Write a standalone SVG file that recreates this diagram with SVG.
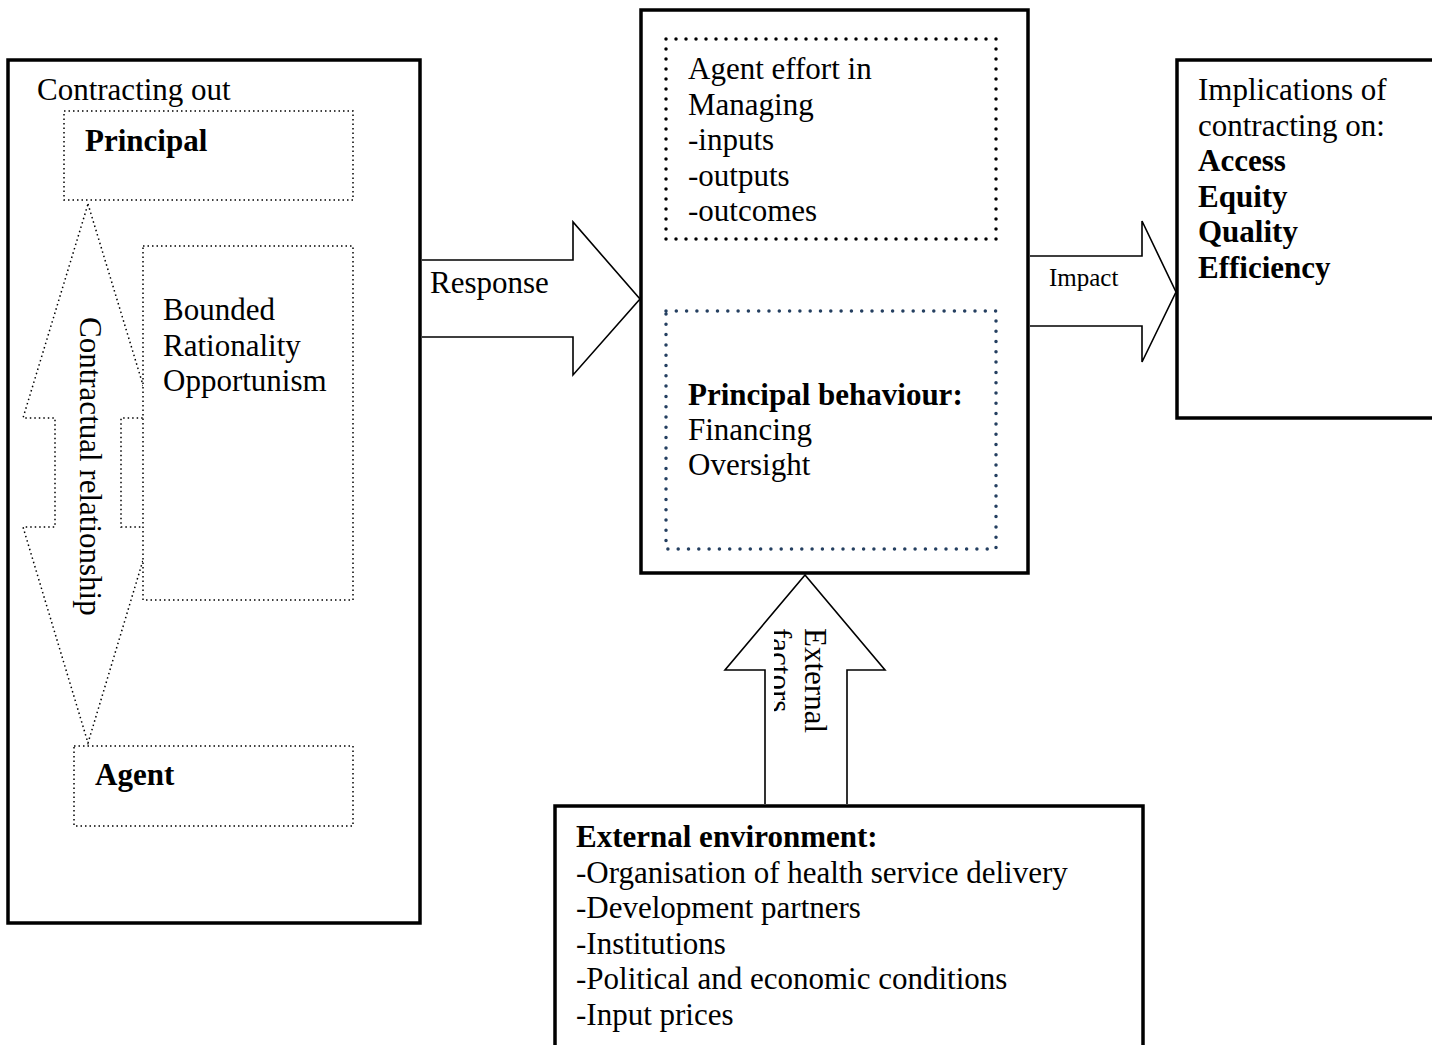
<svg xmlns="http://www.w3.org/2000/svg" width="1432" height="1045" viewBox="0 0 1432 1045">
<defs>
<style>
text{font-family:"Liberation Serif","Times New Roman",serif;font-size:31px;fill:#000}
.b{font-weight:bold}
.box{fill:#fff;stroke:#000;stroke-width:3.5}
.thin{fill:#fff;stroke:#000;stroke-width:1.5;stroke-dasharray:1.5 3}
.dot{fill:#fff;stroke:#000;stroke-width:3.5;stroke-dasharray:0 10;stroke-linecap:round}
.dotb{fill:#fff;stroke:#243f60;stroke-width:3.5;stroke-dasharray:0 10.3;stroke-linecap:round}
.arr{fill:#fff;stroke:#000;stroke-width:1.6;stroke-linejoin:miter}
.darr{fill:none;stroke:#000;stroke-width:1.5;stroke-dasharray:1.5 3}
</style>
<clipPath id="fclip"><rect x="774" y="600" width="80" height="200"/></clipPath>
</defs>
<rect width="1432" height="1045" fill="#fff"/>

<g id="contracting-out">
<rect class="box" x="8" y="60" width="412" height="863"/>
<text x="37" y="100">Contracting out</text>
</g>
<g id="response-box">
<rect class="box" x="641" y="10" width="387" height="563"/>
</g>
<g id="implications">
<rect class="box" x="1177" y="60" width="300" height="358"/>
<text x="1198" y="100">Implications of</text>
<text x="1198" y="135.5">contracting on:</text>
<text class="b" x="1198" y="171">Access</text>
<text class="b" x="1198" y="206.5">Equity</text>
<text class="b" x="1198" y="242">Quality</text>
<text class="b" x="1198" y="277.5">Efficiency</text>
</g>
<g id="external-environment">
<rect class="box" x="555" y="806" width="588" height="300"/>
<text class="b" x="576" y="847">External environment:</text>
<text x="576" y="882.5">-Organisation of health service delivery</text>
<text x="576" y="918">-Development partners</text>
<text x="576" y="953.5">-Institutions</text>
<text x="576" y="989">-Political and economic conditions</text>
<text x="576" y="1024.5">-Input prices</text>
</g>

<g id="connectors">
<g id="response-arrow">
<path class="arr" d="M422,260 H573 V222 L640,299 L573,375 V337 H422"/>
<text x="430" y="293">Response</text>
</g>
<g id="impact-arrow">
<path class="arr" d="M1030,256 H1142 V221 L1176,292 L1142,362 V326 H1030"/>
<text x="1049" y="286" style="font-size:25px">Impact</text>
</g>
<g id="external-factors-arrow">
<path class="arr" d="M765,804 V670 H725 L805,575 L885,670 H847 V804"/>
<text transform="translate(805,628) rotate(90)">External</text>
<g clip-path="url(#fclip)"><text transform="translate(769.5,628) rotate(90)">factors</text></g>
</g>
<g id="contractual-relationship">
<polygon class="darr" points="88,204 153,418 121,418 121,527 153,527 88,743 23,527 55,527 55,418 23,418"/>
<text transform="translate(80,317) rotate(90)">Contractual relationship</text>
</g>
</g>

<g id="principal">
<rect class="thin" x="64" y="111" width="289" height="89"/>
<text class="b" x="85" y="151">Principal</text>
</g>
<g id="bounded-rationality">
<rect class="thin" x="143" y="246" width="210" height="354"/>
<text x="163" y="320">Bounded</text>
<text x="163" y="355.5">Rationality</text>
<text x="163" y="391">Opportunism</text>
</g>
<g id="agent">
<rect class="thin" x="74" y="746" width="279" height="80"/>
<text class="b" x="95" y="785">Agent</text>
</g>
<g id="agent-effort">
<rect class="dot" x="666" y="39" width="330" height="200"/>
<text x="688" y="79">Agent effort in</text>
<text x="688" y="114.5">Managing</text>
<text x="688" y="150">-inputs</text>
<text x="688" y="185.5">-outputs</text>
<text x="688" y="221">-outcomes</text>
</g>
<g id="principal-behaviour">
<rect class="dotb" x="666" y="311" width="330" height="238"/>
<text class="b" x="688" y="405">Principal behaviour:</text>
<text x="688" y="440">Financing</text>
<text x="688" y="475">Oversight</text>
</g>
</svg>
